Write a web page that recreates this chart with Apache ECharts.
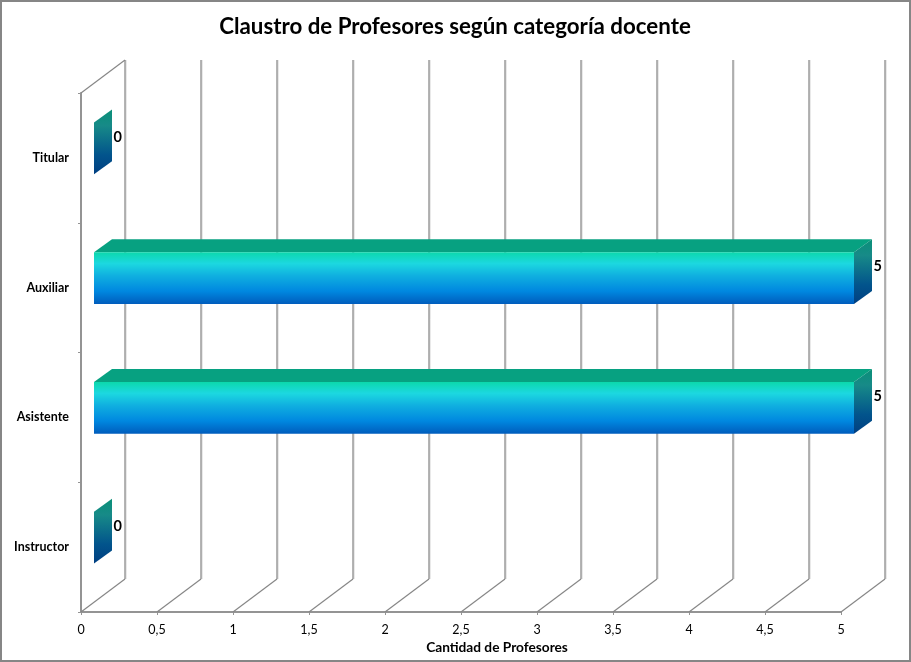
<!DOCTYPE html>
<html><head><meta charset="utf-8">
<style>html,body{margin:0;padding:0;background:#fff}#c{width:911px;height:662px}</style>
<script src="https://cdn.jsdelivr.net/npm/echarts@6/dist/echarts.min.js"></script>
</head><body><div id="c"></div>
<script>
const titleText = 'Claustro de Profesores según categoría docente';
const axisName = 'Cantidad de Profesores';
const categories = ['Instructor', 'Asistente', 'Auxiliar', 'Titular'];
const values = [0, 5, 5, 0];
const valueTicks = [0, 0.5, 1, 1.5, 2, 2.5, 3, 3.5, 4, 4.5, 5];

const WALL_DX = 44, WALL_DY = -33;
const BAR_DX = 13, BAR_DY = -9.5;
const FACE_DX = 18, FACE_DY = -13;
const BAR_RATIO = 0.4;
const GRAY = '#949494';

const grad = (stops) => ({type: 'linear', x: 0, y: 0, x2: 0, y2: 1,
  colorStops: stops.map(s => ({offset: s[0], color: s[1]}))});
const frontFill = grad([[0, '#0cd8ac'], [0.22, '#1cd8e0'], [0.45, '#10b0e0'], [0.75, '#0088e0'], [1, '#005cbc']]);
const sideFill = grad([[0, '#0a9078'], [0.25, '#178a88'], [0.7, '#02548c'], [1, '#003f82']]);

function renderWall(params, api) {
  const p = api.coord([api.value(0), 0]);
  const band = api.size([0, 1])[1];
  const x = p[0], yBottom = p[1] + band / 2, yTop = yBottom - band * categories.length;
  return {type: 'group', silent: true, children: [
    {type: 'line', shape: {x1: x, y1: yBottom, x2: x + WALL_DX, y2: yBottom + WALL_DY},
     style: {stroke: '#868686', lineWidth: 1.2}},
    {type: 'line', shape: {x1: x + WALL_DX + 1, y1: yBottom + WALL_DY, x2: x + WALL_DX + 1, y2: yTop + WALL_DY},
     style: {stroke: '#d4d4d4', lineWidth: 1}},
    {type: 'line', shape: {x1: x + WALL_DX, y1: yBottom + WALL_DY, x2: x + WALL_DX, y2: yTop + WALL_DY},
     style: {stroke: GRAY, lineWidth: 1.4}},
    params.dataIndex === 0 ? {type: 'line', shape: {x1: x, y1: yTop, x2: x + WALL_DX, y2: yTop + WALL_DY},
     style: {stroke: '#868686', lineWidth: 1.2}} : {type: 'group'}
  ]};
}

function renderBar(params, api) {
  const val = api.value(0), cat = api.value(1);
  const start = api.coord([0, cat]), end = api.coord([val, cat]);
  const h = api.size([0, 1])[1] * BAR_RATIO;
  const x0 = start[0] + BAR_DX, x1 = end[0] + BAR_DX;
  const y0 = start[1] + BAR_DY - h / 2, y1 = y0 + h;
  const kids = [];
  if (x1 > x0) {
    kids.push({type: 'polygon',
      shape: {points: [[x0, y0], [x0 + FACE_DX, y0 + FACE_DY], [x1 + FACE_DX, y0 + FACE_DY], [x1, y0]]},
      style: {fill: '#07a181'}});
    kids.push({type: 'rect', shape: {x: x0, y: y0, width: x1 - x0, height: h}, style: {fill: frontFill}});
  }
  kids.push({type: 'polygon',
    shape: {points: [[x1, y0], [x1 + FACE_DX, y0 + FACE_DY], [x1 + FACE_DX, y1 + FACE_DY], [x1, y1]]},
    style: {fill: sideFill}});
  kids.push({type: 'text',
    style: {x: x1 + FACE_DX + 1.5, y: (y0 + y1 + FACE_DY) / 2 - 5, text: String(val), align: 'left', verticalAlign: 'middle',
      fill: '#000', font: 'bold 14.5px Lato'}});
  return {type: 'group', children: kids};
}

const chart = echarts.init(document.getElementById('c'));
chart.setOption({
  animation: false,
  backgroundColor: '#fff',
  title: {text: titleText, left: 450, top: 11, textAlign: 'center',
    textStyle: {fontFamily: 'Lato', fontWeight: 'bold', fontSize: 22.3, color: '#000'}},
  grid: {left: 81, right: 70, top: 93, bottom: 50},
  xAxis: {type: 'value', min: 0, max: 5, interval: 0.5,
    name: axisName, nameLocation: 'middle', nameGap: 26,
    nameTextStyle: {fontFamily: 'Lato', fontWeight: 'bold', fontSize: 13.7, color: '#000', padding: [0, 0, 0, 72]},
    axisLine: {show: true, lineStyle: {color: GRAY, width: 2}},
    axisTick: {show: true, length: 3, lineStyle: {color: GRAY, width: 1}},
    axisLabel: {show: true, margin: 11, color: '#000', fontFamily: 'Lato', fontSize: 12.5, hideOverlap: false, showMinLabel: true, showMaxLabel: true,
      formatter: v => String(v).replace('.', ',')},
    splitLine: {show: false}},
  yAxis: {type: 'category', data: categories,
    axisLine: {show: true, lineStyle: {color: GRAY, width: 2}},
    axisTick: {show: true, length: 3, lineStyle: {color: GRAY, width: 1}},
    axisLabel: {show: true, margin: 12, color: '#000', fontFamily: 'Lato', fontWeight: 'bold', fontSize: 12.5, padding: [4, 0, 0, 0]},
    splitLine: {show: false}},
  graphic: [{type: 'rect', silent: true, z: -10,
    shape: {x: 1, y: 1, width: 909, height: 660},
    style: {fill: 'none', stroke: '#868686', lineWidth: 2}}],
  series: [
    {type: 'custom', name: 'walls', z: 1, silent: true, renderItem: renderWall,
     data: valueTicks.map(v => [v]), encode: {x: 0}},
    {type: 'custom', name: 'Profesores', z: 3, silent: true, renderItem: renderBar,
     data: values.map((v, i) => [v, i]), encode: {x: 0, y: 1}}
  ]
});
</script></body></html>
